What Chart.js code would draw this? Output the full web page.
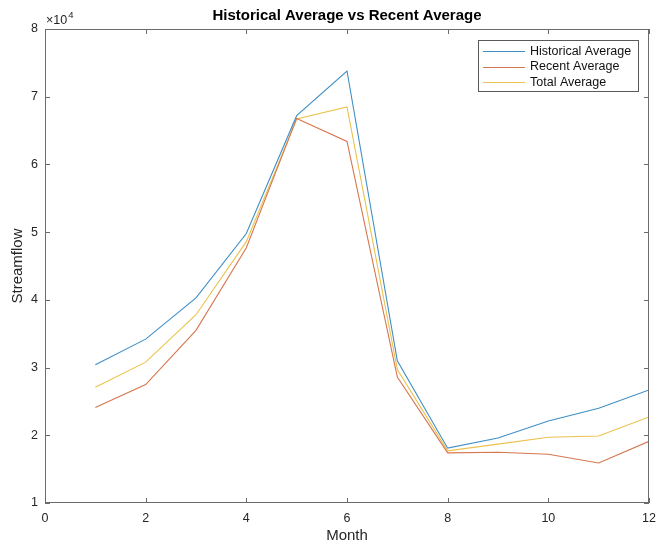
<!DOCTYPE html>
<html>
<head>
<meta charset="utf-8">
<script src="https://cdn.jsdelivr.net/npm/chart.js@4/dist/chart.umd.min.js"></script>
<style>
  html, body { margin: 0; padding: 0; background: #fff; }
  #wrap { width: 659px; height: 548px; }
</style>
</head>
<body>
<div id="wrap"><canvas id="chart" width="659" height="548"></canvas></div>
<script>
// data
const months = [1, 2, 3, 4, 5, 6, 7, 8, 9, 10, 11, 12];
const historicalAvg = [30400, 34200, 40300, 49800, 67200, 73800, 31000, 18100, 19600, 22100, 24000, 26700];
const recentAvg = [24100, 27500, 35500, 47700, 66800, 63400, 28600, 17400, 17500, 17200, 15900, 19100];
const totalAvg = [27100, 30800, 37800, 48600, 66700, 68500, 29700, 17700, 18700, 19700, 19900, 22700];
const seriesNames = ['Historical Average', 'Recent Average', 'Total Average'];
const xTicks = [0, 2, 4, 6, 8, 10, 12];
const yTicks = [1, 2, 3, 4, 5, 6, 7, 8];

const FONT = "'Liberation Sans', Arial, Helvetica, sans-serif";
const AXIS = '#6b6b6b';
const colors = ['#3f8fc6', '#d6764e', '#ebc24e'];

const toPoints = (vals) => months.map((m, i) => ({ x: m, y: vals[i] }));

// title, x10^4 exponent, box with inward ticks, legend
const matlabAxes = {
    id: 'matlabAxes',
    afterDraw(chart) {
        const ctx = chart.ctx;
        const a = chart.chartArea;
        const xs = chart.scales.x, ys = chart.scales.y;
        ctx.save();

        // box
        ctx.strokeStyle = AXIS;
        ctx.lineWidth = 1;
        ctx.strokeRect(a.left + 0.5, a.top + 0.5, a.right - a.left - 1, a.bottom - a.top - 1);

        // inward ticks
        const tl = 5;
        ctx.beginPath();
        xs.ticks.forEach(t => {
            const px = Math.round(xs.getPixelForValue(t.value)) + 0.5;
            ctx.moveTo(px, a.bottom); ctx.lineTo(px, a.bottom - tl);
            ctx.moveTo(px, a.top); ctx.lineTo(px, a.top + tl);
        });
        ys.ticks.forEach(t => {
            const py = Math.round(ys.getPixelForValue(t.value)) + 0.5;
            ctx.moveTo(a.left, py); ctx.lineTo(a.left + tl, py);
            ctx.moveTo(a.right, py); ctx.lineTo(a.right - tl, py);
        });
        ctx.stroke();

        // title
        ctx.fillStyle = '#000';
        ctx.font = 'bold 15px ' + FONT;
        ctx.textAlign = 'center';
        ctx.textBaseline = 'middle';
        ctx.fillText('Historical Average vs Recent Average', (a.left + a.right) / 2, 16);

        // exponent label
        ctx.fillStyle = '#262626';
        ctx.textAlign = 'left';
        ctx.textBaseline = 'alphabetic';
        ctx.font = '12.5px ' + FONT;
        ctx.fillText('\u00d710', a.left + 1, 24);
        const w = ctx.measureText('\u00d710').width;
        ctx.font = '9.5px ' + FONT;
        ctx.fillText('4', a.left + 2 + w, 18);

        // legend
        const bx = a.right - 171, by = a.top + 11, bw = 160, bh = 51;
        ctx.fillStyle = '#fff';
        ctx.fillRect(bx, by, bw, bh);
        ctx.strokeStyle = '#5a5a5a';
        ctx.strokeRect(bx + 0.5, by + 0.5, bw, bh);
        ctx.font = '12.5px ' + FONT;
        ctx.textBaseline = 'middle';
        chart.data.datasets.forEach((ds, i) => {
            const cy = by + 11 + i * 15.5;
            ctx.strokeStyle = colors[i];
            ctx.lineWidth = 1;
            ctx.beginPath();
            ctx.moveTo(bx + 5, Math.round(cy) + 0.5);
            ctx.lineTo(bx + 47, Math.round(cy) + 0.5);
            ctx.stroke();
            ctx.fillStyle = '#111';
            ctx.fillText(ds.label, bx + 52, cy + 0.5);
        });
        ctx.restore();
    }
};

new Chart(document.getElementById('chart'), {
    type: 'line',
    data: {
        datasets: [historicalAvg, recentAvg, totalAvg].map((vals, i) => ({
            label: seriesNames[i],
            data: toPoints(vals),
            borderColor: colors[i],
            backgroundColor: colors[i],
            borderWidth: 1.1,
            pointRadius: 0,
            tension: 0,
            fill: false
        }))
    },
    options: {
        responsive: false,
        animation: false,
        layout: { padding: { top: 29, right: 10, left: 0, bottom: 0 } },
        plugins: {
            legend: { display: false },
            title: { display: false },
            tooltip: { enabled: false }
        },
        scales: {
            x: {
                type: 'linear',
                min: 0,
                max: 12,
                afterBuildTicks: (scale) => { scale.ticks = xTicks.map(v => ({ value: v })); },
                afterFit: (scale) => { scale.height = 45; scale.paddingLeft = 0; scale.paddingRight = 0; },
                grid: { display: false, drawTicks: false },
                border: { display: false },
                ticks: {
                    padding: 8,
                    color: '#262626',
                    font: { family: FONT, size: 12.5 },
                    maxRotation: 0
                },
                title: {
                    display: true,
                    text: 'Month',
                    color: '#262626',
                    font: { family: FONT, size: 15 },
                    padding: { top: 0, bottom: 3 }
                }
            },
            y: {
                min: 10000,
                max: 80000,
                afterBuildTicks: (scale) => { scale.ticks = yTicks.map(v => ({ value: v * 10000 })); },
                afterFit: (scale) => { scale.width = 45; scale.paddingTop = 0; scale.paddingBottom = 0; },
                grid: { display: false, drawTicks: false },
                border: { display: false },
                ticks: {
                    padding: 7,
                    color: '#262626',
                    font: { family: FONT, size: 12.5 },
                    callback: (v) => String(v / 10000)
                },
                title: {
                    display: true,
                    text: 'Streamflow',
                    color: '#262626',
                    font: { family: FONT, size: 15 },
                    padding: { top: 9, bottom: 0 }
                }
            }
        }
    },
    plugins: [matlabAxes]
});
</script>
</body>
</html>
